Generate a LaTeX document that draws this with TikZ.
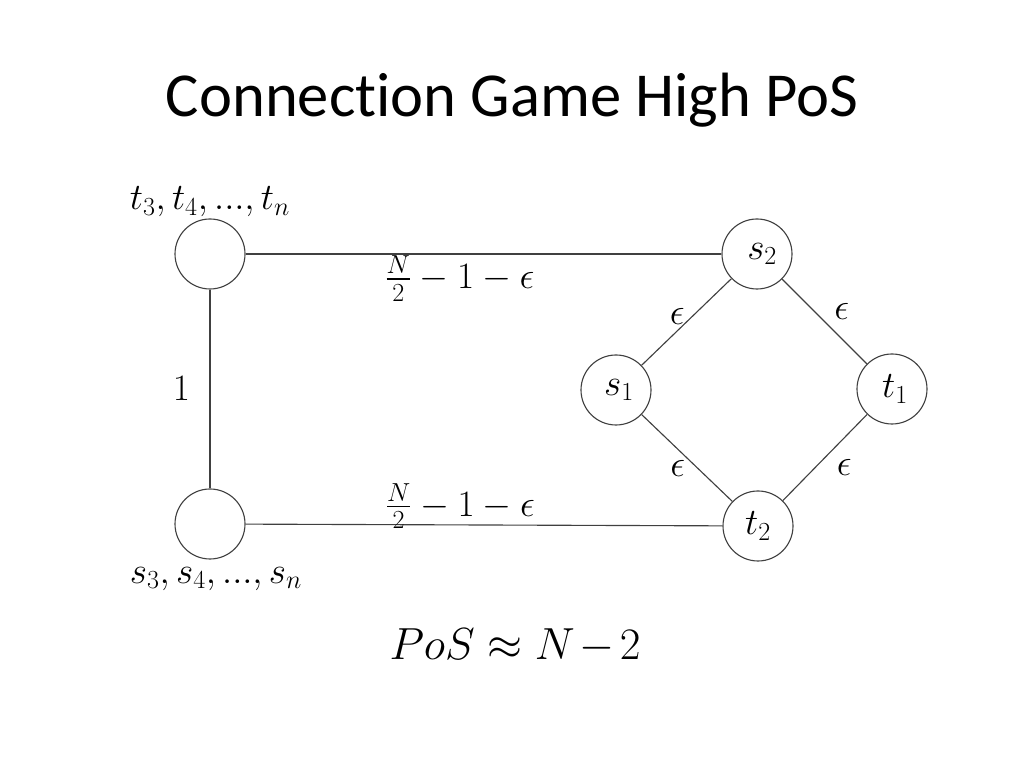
\RequirePackage{fix-cm}
\documentclass[tikz,border=0pt]{standalone}
\usepackage{amsmath}
\usepackage{fontspec}
\usetikzlibrary{positioning}
\newfontfamily\titlefont{Carlito}[Ligatures=NoCommon]
\tikzstyle{vertex} = [circle, draw=black!75, line width=0.8pt, minimum size=1.75cm, inner sep=0pt, font=\fontsize{26.5}{32}\selectfont]
\tikzstyle{edge} = [draw=black!75, line width=0.8pt]
\tikzstyle{weight} = [inner sep=1pt, font=\fontsize{26.5}{32}\selectfont]

\begin{document}
\begin{tikzpicture}
\useasboundingbox (0,0) rectangle (25.6,19.2);

\node (title) at (12.8,16.7) {\titlefont\fontsize{44.5}{53}\selectfont Connection Game High PoS};

\node (tn) [vertex] at (5.25,12.85) {};
\node (sn) [vertex] at (5.25,6.1) {};
\node (s2) [vertex] at (18.925,12.85) {$\;s_2$};
\node (s1) [vertex] at (15.4,9.45) {$\,s_1$};
\node (t1) [vertex] at (22.3,9.475) {$\,t_1$};
\node (t2) [vertex] at (18.95,6.05) {$t_2$};

\node (tlabel) [weight, above=0pt of tn] {$t_3, t_4, ..., t_n$};
\node (slabel) [weight, below=0.15cm of sn, xshift=0.15cm] {$s_3, s_4, ..., s_n$};

\draw [edge] (tn) -- node [weight, below, pos=0.45] (w1) {$\frac{N}{2}-1-\epsilon$} (s2);
\draw [edge] (sn) -- node [weight, above, pos=0.45, yshift=-0.15cm] (w2) {$\frac{N}{2}-1-\epsilon$} (t2);
\draw [edge] (tn) -- node [weight, left=0.45cm] (w3) {$1$} (sn);
\draw [edge] (s1) -- node [weight, above left, yshift=-0.1cm] (e1) {$\epsilon$} (s2);
\draw [edge] (s2) -- node [weight, above right, xshift=0.2cm] (e2) {$\epsilon$} (t1);
\draw [edge] (s1) -- node [weight, below left] (e3) {$\epsilon$} (t2);
\draw [edge] (t1) -- node [weight, below right, xshift=0.25cm] (e4) {$\epsilon$} (t2);

\node (pos) at (12.875,3.05) {\fontsize{32}{38}\selectfont$PoS \approx N\mkern2mu{-}\mkern2mu 2$};

\end{tikzpicture}
\end{document}
